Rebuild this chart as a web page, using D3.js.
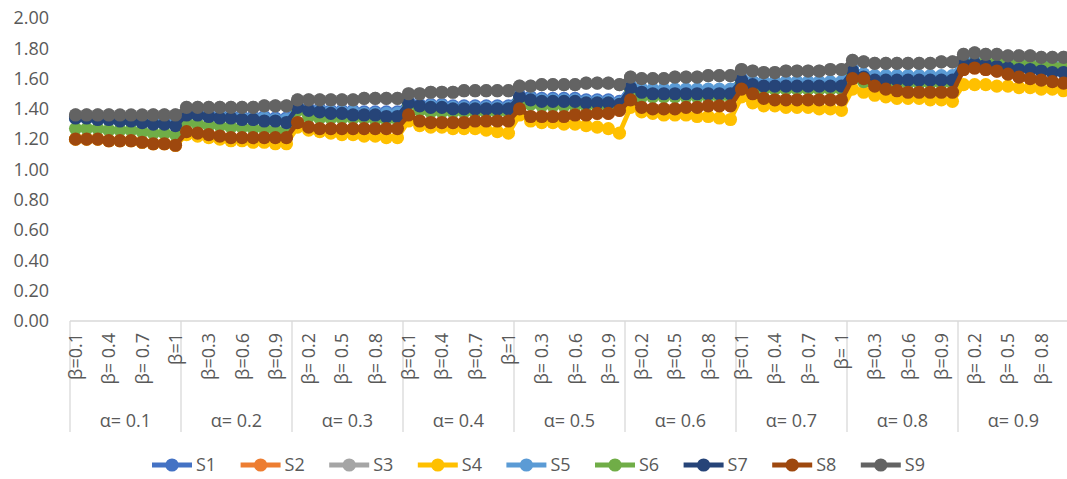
<!DOCTYPE html>
<html><head><meta charset="utf-8">
<script src="https://cdn.jsdelivr.net/npm/d3@7"></script>
<style>
html,body{margin:0;padding:0;background:#fff;}
text{font-family:"Open Sans",sans-serif;fill:#595959;}
</style></head>
<body><svg id="c" width="1067" height="479"></svg>
<script>
const alphaLabels = ["α= 0.1","α= 0.2","α= 0.3","α= 0.4","α= 0.5","α= 0.6","α= 0.7","α= 0.8","α= 0.9"];
const betaLabels = ["0.1","0.2","0.3","0.4","0.5","0.6","0.7","0.8","0.9","1"];
// axis labels shown on every third category
const betaTickLabels = [
 "β=0.1","β= 0.4","β= 0.7","β=1",
 "β=0.3","β=0.6","β=0.9",
 "β= 0.2","β= 0.5","β= 0.8",
 "β=0.1","β=0.4","β=0.7","β=1",
 "β= 0.3","β= 0.6","β= 0.9",
 "β=0.2","β=0.5","β=0.8",
 "β=0.1","β= 0.4","β= 0.7","β= 1",
 "β=0.3","β=0.6","β=0.9",
 "β= 0.2","β= 0.5","β= 0.8"];
const yTicks = [0,0.2,0.4,0.6,0.8,1.0,1.2,1.4,1.6,1.8,2.0];
const seriesNames = ["S1","S2","S3","S4","S5","S6","S7","S8","S9"];
const seriesColors = ["#4472C4","#ED7D31","#A5A5A5","#FFC000","#5B9BD5","#70AD47","#264478","#9E480E","#636363"];

const S1 = [1.35,1.35,1.34,1.34,1.33,1.33,1.32,1.32,1.31,1.31,
 1.37,1.37,1.36,1.36,1.36,1.35,1.35,1.35,1.34,1.34,
 1.42,1.40,1.40,1.39,1.39,1.39,1.38,1.38,1.38,1.38,
 1.45,1.43,1.43,1.43,1.42,1.42,1.42,1.42,1.42,1.42,
 1.49,1.48,1.47,1.47,1.47,1.47,1.46,1.46,1.46,1.45,
 1.55,1.53,1.52,1.52,1.52,1.52,1.52,1.52,1.52,1.52,
 1.60,1.58,1.57,1.57,1.57,1.57,1.57,1.57,1.57,1.57,
 1.66,1.63,1.61,1.61,1.61,1.61,1.61,1.61,1.61,1.61,
 1.71,1.71,1.70,1.70,1.69,1.68,1.68,1.67,1.67,1.66];
const S2 = [1.20,1.20,1.20,1.19,1.19,1.19,1.18,1.17,1.17,1.16,
 1.25,1.24,1.23,1.22,1.21,1.21,1.21,1.21,1.21,1.21,
 1.31,1.28,1.27,1.27,1.27,1.27,1.27,1.27,1.27,1.27,
 1.36,1.32,1.31,1.31,1.31,1.31,1.32,1.32,1.32,1.32,
 1.40,1.35,1.35,1.35,1.35,1.36,1.36,1.37,1.37,1.39,
 1.46,1.41,1.40,1.40,1.40,1.41,1.41,1.42,1.42,1.42,
 1.53,1.50,1.47,1.46,1.46,1.46,1.46,1.46,1.46,1.46,
 1.60,1.60,1.55,1.53,1.52,1.51,1.51,1.51,1.51,1.51,
 1.66,1.67,1.66,1.65,1.63,1.61,1.60,1.59,1.58,1.57];
const S3 = [1.36,1.36,1.36,1.36,1.35,1.35,1.35,1.36,1.36,1.36,
 1.41,1.41,1.41,1.41,1.41,1.41,1.41,1.42,1.42,1.42,
 1.46,1.46,1.46,1.46,1.46,1.46,1.47,1.47,1.47,1.47,
 1.50,1.50,1.51,1.51,1.51,1.52,1.52,1.52,1.52,1.52,
 1.55,1.55,1.56,1.56,1.56,1.56,1.57,1.57,1.57,1.56,
 1.61,1.60,1.60,1.60,1.61,1.61,1.61,1.62,1.62,1.62,
 1.66,1.65,1.64,1.64,1.65,1.65,1.65,1.65,1.66,1.66,
 1.72,1.71,1.70,1.70,1.70,1.70,1.70,1.70,1.71,1.71,
 1.76,1.77,1.76,1.76,1.75,1.75,1.75,1.74,1.74,1.74];
const S4 = [1.20,1.20,1.20,1.19,1.19,1.19,1.18,1.17,1.17,1.16,
 1.23,1.22,1.21,1.20,1.19,1.19,1.18,1.18,1.17,1.17,
 1.28,1.26,1.25,1.24,1.23,1.23,1.22,1.22,1.21,1.21,
 1.32,1.29,1.28,1.28,1.27,1.27,1.27,1.26,1.25,1.24,
 1.36,1.32,1.31,1.31,1.30,1.30,1.29,1.28,1.27,1.24,
 1.41,1.38,1.37,1.36,1.36,1.36,1.35,1.35,1.34,1.33,
 1.48,1.44,1.42,1.42,1.41,1.41,1.41,1.40,1.40,1.39,
 1.53,1.51,1.49,1.48,1.47,1.47,1.47,1.46,1.46,1.45,
 1.56,1.56,1.56,1.55,1.55,1.54,1.54,1.53,1.53,1.52];
const S5 = [1.34,1.34,1.33,1.33,1.32,1.32,1.31,1.31,1.30,1.30,
 1.36,1.36,1.35,1.35,1.35,1.34,1.34,1.34,1.33,1.33,
 1.41,1.39,1.39,1.38,1.38,1.38,1.37,1.37,1.37,1.37,
 1.44,1.42,1.42,1.42,1.41,1.41,1.41,1.41,1.41,1.41,
 1.48,1.47,1.46,1.46,1.46,1.46,1.45,1.45,1.45,1.44,
 1.55,1.53,1.53,1.53,1.53,1.53,1.53,1.53,1.53,1.53,
 1.60,1.58,1.58,1.58,1.58,1.58,1.58,1.58,1.58,1.58,
 1.66,1.63,1.62,1.62,1.62,1.62,1.62,1.62,1.62,1.62,
 1.72,1.71,1.71,1.70,1.70,1.70,1.69,1.69,1.69,1.68];
const S6 = [1.27,1.27,1.27,1.26,1.26,1.26,1.25,1.24,1.24,1.23,
 1.31,1.30,1.29,1.29,1.28,1.28,1.27,1.27,1.26,1.26,
 1.39,1.35,1.34,1.34,1.34,1.34,1.34,1.33,1.33,1.33,
 1.43,1.39,1.38,1.38,1.38,1.38,1.38,1.38,1.38,1.38,
 1.46,1.43,1.42,1.42,1.42,1.42,1.42,1.42,1.42,1.42,
 1.53,1.48,1.48,1.48,1.48,1.48,1.48,1.48,1.48,1.48,
 1.57,1.53,1.53,1.53,1.53,1.53,1.53,1.53,1.53,1.53,
 1.63,1.58,1.57,1.57,1.57,1.57,1.57,1.57,1.57,1.57,
 1.70,1.70,1.71,1.71,1.70,1.70,1.69,1.69,1.68,1.68];
const S7 = [1.34,1.34,1.33,1.33,1.32,1.32,1.31,1.30,1.30,1.29,
 1.36,1.36,1.35,1.34,1.34,1.33,1.33,1.32,1.32,1.31,
 1.41,1.39,1.38,1.37,1.37,1.36,1.36,1.36,1.35,1.35,
 1.44,1.42,1.41,1.41,1.40,1.40,1.40,1.40,1.40,1.40,
 1.48,1.46,1.45,1.45,1.45,1.45,1.44,1.44,1.44,1.43,
 1.54,1.51,1.50,1.50,1.50,1.50,1.50,1.50,1.50,1.50,
 1.59,1.56,1.55,1.55,1.55,1.55,1.55,1.55,1.55,1.55,
 1.65,1.61,1.59,1.59,1.59,1.59,1.59,1.59,1.59,1.59,
 1.70,1.70,1.69,1.68,1.67,1.66,1.66,1.65,1.64,1.64];
const S8 = [1.20,1.20,1.20,1.19,1.19,1.19,1.18,1.17,1.17,1.16,
 1.25,1.24,1.23,1.22,1.21,1.21,1.21,1.21,1.21,1.21,
 1.31,1.28,1.27,1.27,1.27,1.27,1.27,1.27,1.27,1.27,
 1.36,1.32,1.31,1.31,1.31,1.31,1.32,1.32,1.32,1.32,
 1.40,1.35,1.35,1.35,1.35,1.36,1.36,1.37,1.37,1.39,
 1.46,1.41,1.40,1.40,1.40,1.41,1.41,1.42,1.42,1.42,
 1.53,1.50,1.47,1.46,1.46,1.46,1.46,1.46,1.46,1.46,
 1.60,1.60,1.55,1.53,1.52,1.51,1.51,1.51,1.51,1.51,
 1.66,1.67,1.66,1.65,1.63,1.61,1.60,1.59,1.58,1.57];
const S9 = [1.36,1.36,1.36,1.36,1.36,1.36,1.36,1.36,1.36,1.36,
 1.41,1.41,1.41,1.41,1.41,1.41,1.41,1.42,1.42,1.42,
 1.46,1.46,1.46,1.46,1.46,1.46,1.47,1.47,1.47,1.47,
 1.50,1.50,1.51,1.51,1.51,1.52,1.52,1.52,1.52,1.52,
 1.55,1.55,1.56,1.56,1.56,1.56,1.57,1.57,1.57,1.56,
 1.61,1.60,1.60,1.60,1.61,1.61,1.61,1.62,1.62,1.62,
 1.66,1.65,1.64,1.64,1.65,1.65,1.65,1.65,1.66,1.66,
 1.72,1.71,1.70,1.70,1.70,1.70,1.70,1.70,1.71,1.71,
 1.76,1.77,1.76,1.76,1.75,1.75,1.75,1.74,1.74,1.74];
const seriesValues = [S1,S2,S3,S4,S5,S6,S7,S8,S9];

// categories: alpha x beta
const categories = [];
alphaLabels.forEach((a,ai)=>betaLabels.forEach((b,bi)=>categories.push({key:ai+"_"+bi, alpha:ai, beta:b})));

const svg = d3.select("#c");
const L=70, R=1069, T=18, B=321;
const x = d3.scaleBand().domain(categories.map(c=>c.key)).range([L,R]).padding(0);
const xg = d3.scaleBand().domain(alphaLabels).range([L,R]);
const y = d3.scaleLinear().domain([0,2]).range([B,T]);

// y axis labels
const yAxis = d3.axisLeft(y).tickValues(yTicks).tickSize(0).tickPadding(0).tickFormat(d3.format(".2f"));
const ya = svg.append("g").attr("transform",`translate(${49},0)`).call(yAxis);
ya.select(".domain").remove();
ya.selectAll("text").style("font-size","18px").style("font-family","Open Sans").attr("fill","#595959");

// x axis line
svg.append("line").attr("x1",L).attr("x2",1067).attr("y1",B).attr("y2",B).attr("stroke","#d9d9d9").attr("stroke-width",1.3);
// group separators
const seps = alphaLabels.map(a=>xg(a)).concat([R]);
svg.selectAll("line.sep").data(seps).enter().append("line").attr("class","sep")
  .attr("x1",d=>d).attr("x2",d=>d).attr("y1",B).attr("y2",432)
  .attr("stroke","#d9d9d9").attr("stroke-width",1.3);

// beta tick labels (every third category)
const tickCats = categories.filter((c,i)=>i%3===0);
svg.selectAll("text.bt").data(tickCats).enter().append("text").attr("class","bt")
  .attr("transform",(d)=>`translate(${x(d.key)+x.bandwidth()/2},333) rotate(-90)`)
  .attr("text-anchor","end").attr("dy","0.36em")
  .style("font-size","18px")
  .text((d,i)=>betaTickLabels[i]);

// alpha labels
svg.selectAll("text.al").data(alphaLabels).enter().append("text").attr("class","al")
  .attr("x",d=>xg(d)+xg.bandwidth()/2).attr("y",427)
  .attr("text-anchor","middle").style("font-size","18px").text(d=>d);

// series
const line = d3.line().x((d,i)=>x(categories[i].key)+x.bandwidth()/2).y(d=>y(d));
seriesValues.forEach((vals,si)=>{
  const g = svg.append("g");
  g.append("path").datum(vals).attr("d",line).attr("fill","none")
    .attr("stroke",seriesColors[si]).attr("stroke-width",4.8).attr("stroke-linejoin","round");
  g.selectAll("circle").data(vals).enter().append("circle")
    .attr("cx",(d,i)=>x(categories[i].key)+x.bandwidth()/2).attr("cy",d=>y(d))
    .attr("r",6.6).attr("fill",seriesColors[si]);
});

// legend
const lg = svg.append("g");
const step = 88.6, lx0 = 152, ly = 465;
seriesNames.forEach((n,i)=>{
  const x0 = lx0 + i*step;
  lg.append("line").attr("x1",x0).attr("x2",x0+40).attr("y1",ly).attr("y2",ly)
    .attr("stroke",seriesColors[i]).attr("stroke-width",4.8);
  lg.append("circle").attr("cx",x0+20).attr("cy",ly).attr("r",6.6).attr("fill",seriesColors[i]);
  lg.append("text").attr("x",x0+44).attr("y",ly).attr("dy","0.36em").style("font-size","18px").text(n);
});
</script></body></html>
